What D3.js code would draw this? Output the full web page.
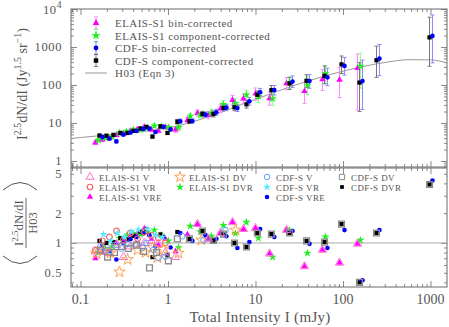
<!DOCTYPE html>
<html><head><meta charset="utf-8">
<script src="https://cdn.jsdelivr.net/npm/d3@7"></script>
<style>
body{margin:0;background:#fff;}
svg{display:block;font-family:"Liberation Serif","DejaVu Serif",serif;}
</style></head><body><svg id="c" width="449" height="327"></svg>
<script>
// ---------------- data ----------------
const xTickValues = [0.1, 1, 10, 100, 1000];
const xTickLabels = ["0.1", "1", "10", "100", "1000"];
const topTickValues = [1, 10, 100, 1000];
const topTickLabels = ["1", "10", "100", "1000"];
const topTickPow = 10000;
const ratioTickValues = [0.5, 1, 2, 5];
const ratioTickLabels = ["0.5", "1", "2", "5"];

// H03 model curve (sampled)
const h03I   = [0.0779, 0.1, 0.178, 0.316, 0.562, 1, 1.78, 3.16, 5.62, 10, 17.8, 31.6, 56.2, 100, 178, 316, 562, 1000, 1544];
const h03Val = [3.9, 4.15, 4.7, 5.3, 6.1, 7.4, 10.19, 15.67, 25.39, 41.88, 68.2, 107.4, 161.3, 230.7, 312.7, 398, 462.7, 459, 380];

// ELAIS-S1 bin-corrected (VRE)
const elaisVreI     = [0.148,0.178,0.214,0.258,0.310,0.372,0.448,0.538,0.647,0.778,0.935,1.22,1.67,2.17,2.90,3.98,5.46,7.29,10.0,14.5,22.6,36.3,58.3,91.2,146.6];
const elaisVreVal   = [3.03,3.63,3.98,4.81,5.20,6.19,6.75,7.90,6.64,6.19,7.73,6.67,11.98,18.3,16.2,23.9,40.2,43.9,59.1,44.7,111,68.6,140,137,277];
const elaisVreUp    = [0.05,0.05,0.05,0.05,0.05,0.05,0.05,0.05,0.05,0.05,0.05,0.07,0.07,0.08,0.1,0.1,0.12,0.12,0.15,0.16,0.15,0.24,0.26,0.32,0.37];
const elaisVreDn    = [0.05,0.05,0.05,0.05,0.05,0.05,0.05,0.05,0.05,0.05,0.05,0.07,0.07,0.08,0.1,0.11,0.13,0.13,0.17,0.18,0.17,0.32,0.29,0.47,1.1];
const elaisVreRatio = [0.70,0.80,0.85,1.00,1.05,1.20,1.25,1.40,1.10,0.95,1.10,0.82,1.22,1.55,1.10,1.26,1.62,1.38,1.41,0.78,1.35,0.58,0.85,0.63,0.98];

// ELAIS-S1 component-corrected (DVR)
const elaisDvrI     = [0.160,0.192,0.231,0.279,0.335,0.402,0.484,0.581,0.699,0.840,1.01,1.32,1.80,2.34,3.13,4.30,5.90,7.87,10.8,15.7,24.4,39.2,63.0,158];
const elaisDvrVal   = [3.53,4.04,4.35,5.45,5.94,6.58,6.71,7.51,8.42,8.08,7.64,7.68,15.2,16.3,18.2,30.7,33.1,55.2,50.2,44.1,118,99.0,199,315];
const elaisDvrUp    = [0.05,0.05,0.05,0.05,0.05,0.05,0.05,0.05,0.05,0.05,0.05,0.07,0.07,0.08,0.1,0.1,0.12,0.12,0.15,0.16,0.15,0.24,0.21,0.34];
const elaisDvrDn    = [0.05,0.05,0.05,0.05,0.05,0.05,0.05,0.05,0.05,0.05,0.05,0.07,0.07,0.08,0.1,0.11,0.13,0.13,0.17,0.18,0.17,0.24,0.26,0.58];
const elaisDvrRatio = [0.80,0.88,0.92,1.12,1.18,1.25,1.22,1.30,1.35,1.20,1.05,0.90,1.48,1.30,1.17,1.51,1.25,1.62,1.12,0.72,1.35,0.79,1.15,1.07];

// CDF-S bin-corrected (VRE)
const cdfsVreI      = [0.178,0.214,0.257,0.309,0.373,0.436,0.524,0.613,0.718,0.887,1.07,1.38,1.90,2.68,3.57,4.65,6.21,8.52,11.3,16.4,26.5,41.4,66.4,104,167,261,1053];
const cdfsVreVal    = [4.31,3.88,3.27,4.95,5.63,6.18,7.01,7.10,5.81,7.92,6.77,11.1,11.3,16.6,19.1,25.4,24.7,37.2,64.6,73.6,123,127,159,318,127,496,1960];
const cdfsVreUp     = [0.04,0.04,0.04,0.04,0.04,0.04,0.04,0.04,0.04,0.04,0.04,0.06,0.06,0.07,0.08,0.08,0.09,0.1,0.1,0.12,0.15,0.17,0.24,0.22,0.55,0.37,0.55];
const cdfsVreDn     = [0.04,0.04,0.04,0.04,0.04,0.04,0.04,0.04,0.04,0.04,0.04,0.06,0.06,0.07,0.08,0.08,0.09,0.1,0.1,0.13,0.16,0.19,0.22,0.24,0.75,0.45,0.71];
const cdfsVreRatio  = [0.95,0.83,0.68,1.00,1.09,1.15,1.25,1.20,0.92,1.15,0.90,1.26,1.05,1.20,1.10,1.17,0.89,1.02,1.38,1.15,1.32,0.98,0.89,1.35,0.42,1.35,4.27];

// CDF-S component-corrected (DVR)
const cdfsDvrI      = [0.165,0.198,0.238,0.286,0.345,0.404,0.485,0.568,0.665,0.821,0.987,1.28,1.76,2.48,3.31,4.31,5.75,7.89,10.5,15.2,24.5,38.3,61.5,96.2,154.5,241.5,975];
const cdfsDvrVal    = [4.67,4.61,4.85,5.47,5.47,6.21,7.16,7.84,4.40,8.13,5.47,10.8,11.1,17.3,17.3,25.0,25.9,31.0,55.2,73.6,110,129,174,349,116,448,1790];
const cdfsDvrUp     = [0.04,0.04,0.04,0.04,0.04,0.04,0.04,0.04,0.04,0.04,0.04,0.06,0.06,0.07,0.08,0.08,0.09,0.1,0.1,0.12,0.15,0.16,0.26,0.22,0.53,0.37,0.53];
const cdfsDvrDn     = [0.04,0.04,0.04,0.04,0.04,0.04,0.04,0.04,0.04,0.04,0.04,0.06,0.06,0.07,0.08,0.08,0.09,0.1,0.1,0.13,0.16,0.18,0.21,0.24,0.76,0.45,0.76];
const cdfsDvrRatio  = [1.05,1.00,1.02,1.12,1.08,1.18,1.30,1.37,0.72,1.22,0.76,1.29,1.10,1.32,1.06,1.23,1.00,0.91,1.26,1.23,1.26,1.05,1.02,1.55,0.40,1.26,3.90];

// lower panel only: other ratio series
const elaisVI      = [0.148,0.178,0.214,0.258,0.310,0.372,0.448,0.538,0.647,0.778,0.935,1.22,2.17,2.90,3.98,5.46,7.29,10.0,14.5,22.6,36.3,58.3,91.2,146.6];
const elaisVRatio  = [0.82,0.90,0.79,0.95,0.72,0.92,0.98,1.00,1.05,0.98,0.80,0.72,1.55,1.10,1.26,1.62,1.38,1.41,0.78,1.35,0.58,0.85,0.63,0.98];
const elaisVrI     = [0.148,0.178,0.214,0.258,0.310,0.372,0.448,0.538,0.647,0.778,0.935];
const elaisVrRatio = [0.85,1.05,1.15,1.32,1.08,1.26,1.10,1.29,1.20,1.12,1.00];
const elaisDvI     = [0.152,0.183,0.220,0.279,0.345,0.448,0.553,0.665,0.758,0.889,1.32,2.41,5.92];
const elaisDvRatio = [0.78,0.85,0.79,0.51,0.68,0.85,0.80,0.90,0.71,0.86,0.79,1.07,1.35];
const cdfsVI       = [0.169,0.204,0.245,0.294,0.352,0.425,0.511,0.568,0.683,0.779,0.936,1.46,2.55,4.54];
const cdfsVRatio   = [0.92,0.85,0.95,0.88,0.98,0.95,0.90,1.00,0.85,0.71,0.73,1.17,1.07,1.35];
const cdfsVrI      = [0.183,0.220,0.265,0.318,0.383,0.460,0.583,0.720,0.865];
const cdfsVrRatio  = [1.22,1.05,1.26,1.15,1.30,1.36,1.38,1.20,1.15];
const cdfsDvI      = [0.169,0.204,0.245,0.294,0.352,0.436,0.525,0.614,0.739,1.01,1.28,1.76,2.48,3.31,4.31,5.75,7.89,10.5,15.2,24.5,38.3,61.5,96.2,154.5,241.5,975];
const cdfsDvRatio  = [0.85,0.72,0.80,0.92,0.88,0.95,0.82,0.56,0.80,0.66,1.10,1.10,1.32,1.06,1.23,1.00,0.91,1.26,1.23,1.26,1.05,1.02,1.55,0.40,1.26,3.90];

// ---------------- drawing ----------------
const svg = d3.select("#c");
const L = 71, R = 447, T1 = 9, B1 = 167, T2 = 168, B2 = 287;
const ink = "#6a6a6a", txt = "#555";
const x  = d3.scaleLog().domain([0.0779, 1544]).range([L, R]);
const y1 = d3.scaleLog().domain([0.695, 10000]).range([B1, T1]);
const y2 = d3.scaleLog().domain([0.359, 5.72]).range([B2, T2]);

function minors(dom){
  const out=[]; const a=Math.min(...dom), b=Math.max(...dom);
  for(let e=Math.floor(Math.log10(a)); e<=Math.ceil(Math.log10(b)); e++)
    for(let k=1;k<=9;k++){const v=k*Math.pow(10,e); if(v>=a&&v<=b) out.push(v);}
  return out;
}
function majors(dom){
  const out=[]; const a=Math.min(...dom), b=Math.max(...dom);
  for(let e=Math.floor(Math.log10(a)); e<=Math.ceil(Math.log10(b)); e++){const v=Math.pow(10,e); if(v>=a*0.999&&v<=b*1.001) out.push(v);}
  return out;
}
function axis(fn, scale, vals, size, tr){
  svg.append("g").attr("transform", tr)
    .call(fn(scale).tickValues(vals).tickSize(size).tickFormat(""))
    .call(g=>{g.select(".domain").remove(); g.selectAll("line").attr("stroke", ink).attr("stroke-width",0.8);});
}
const xMaj = majors(x.domain()), xMin = minors(x.domain()).filter(v=>!xMaj.includes(v));
axis(d3.axisBottom, x, xMaj, -6, `translate(0,${B1})`);
axis(d3.axisBottom, x, xMin, -3, `translate(0,${B1})`);
axis(d3.axisTop, x, xMaj, -6, `translate(0,${T1})`);
axis(d3.axisTop, x, xMin, -3, `translate(0,${T1})`);
const y1Maj = majors(y1.domain()), y1Min = minors(y1.domain()).filter(v=>!y1Maj.includes(v));
axis(d3.axisLeft, y1, y1Maj, -6, `translate(${L},0)`);
axis(d3.axisLeft, y1, y1Min, -3, `translate(${L},0)`);
axis(d3.axisRight, y1, y1Maj, -6, `translate(${R},0)`);
axis(d3.axisRight, y1, y1Min, -3, `translate(${R},0)`);
axis(d3.axisBottom, x, xMaj, -6, `translate(0,${B2})`);
axis(d3.axisBottom, x, xMin, -3, `translate(0,${B2})`);
axis(d3.axisTop, x, xMaj, -6, `translate(0,${T2})`);
axis(d3.axisTop, x, xMin, -3, `translate(0,${T2})`);
const y2Min = minors(y2.domain()).filter(v=>v!==1);
axis(d3.axisLeft, y2, [1], -6, `translate(${L},0)`);
axis(d3.axisLeft, y2, y2Min, -3, `translate(${L},0)`);
axis(d3.axisRight, y2, [1], -6, `translate(${R},0)`);
axis(d3.axisRight, y2, y2Min, -3, `translate(${R},0)`);

[[T1,B1],[T2,B2]].forEach(([t,b])=>svg.append("rect").attr("x",L).attr("y",t).attr("width",R-L).attr("height",b-t)
  .attr("fill","none").attr("stroke",ink).attr("stroke-width",1));

// tick labels
const lab = svg.append("g").attr("fill", txt);
xTickValues.forEach((v,i)=>lab.append("text").attr("x", x(v)).attr("y", 304).attr("text-anchor","middle")
  .attr("font-size",14).text(xTickLabels[i]));
topTickValues.forEach((v,i)=>lab.append("text").attr("x", 62).attr("y", y1(v)+4.2).attr("text-anchor","end")
  .attr("font-size",12.5).attr("letter-spacing",0.6).text(topTickLabels[i]));
{
  const t = lab.append("text").attr("x", 62).attr("y", y1(topTickPow)+4.5).attr("text-anchor","end").attr("font-size",12.5).attr("letter-spacing",0.6);
  t.append("tspan").text("10");
  t.append("tspan").attr("dy",-6).attr("font-size",9.5).text("4");
}
ratioTickValues.forEach((v,i)=>lab.append("text").attr("x", 62).attr("y", y2(v)+4.5).attr("text-anchor","end")
  .attr("font-size",12.5).attr("letter-spacing",0.6).text(ratioTickLabels[i]));

// axis titles
svg.append("text").attr("x", 260).attr("y", 322).attr("text-anchor","middle").attr("fill",txt).attr("font-size",15)
  .attr("letter-spacing",0.3).text("Total Intensity I (mJy)");
{
  const t = svg.append("text").attr("transform","translate(27,84) rotate(-90)").attr("text-anchor","middle")
    .attr("fill",txt).attr("font-size",14);
  t.append("tspan").text("I");
  t.append("tspan").attr("dy",-6).attr("font-size",10).text("2.5");
  t.append("tspan").attr("dy",6).text("dN/dI (Jy");
  t.append("tspan").attr("dy",-6).attr("font-size",10).text("1.5");
  t.append("tspan").attr("dy",6).text(" sr");
  t.append("tspan").attr("dy",-6).attr("font-size",10).text("\u22121");
  t.append("tspan").attr("dy",6).text(")");
}
{
  const g = svg.append("g").attr("transform","translate(22,223) rotate(-90)").attr("fill",txt);
  const t = g.append("text").attr("x",0).attr("y",1).attr("text-anchor","middle").attr("font-size",13);
  t.append("tspan").text("I");
  t.append("tspan").attr("dy",-5).attr("font-size",9).text("2.5");
  t.append("tspan").attr("dy",5).text("dN/dI");
  g.append("line").attr("x1",-25).attr("x2",25).attr("y1",4).attr("y2",4).attr("stroke",txt).attr("stroke-width",0.9);
  g.append("text").attr("x",0).attr("y",15).attr("text-anchor","middle").attr("font-size",12.5).text("H03");
  g.append("path").attr("d","M-33,-19 Q-48,-2 -33,15").attr("fill","none").attr("stroke",txt).attr("stroke-width",1);
  g.append("path").attr("d","M33,-19 Q48,-2 33,15").attr("fill","none").attr("stroke",txt).attr("stroke-width",1);
}

// H03 curve
svg.append("path").datum(h03I.map((v,i)=>[v,h03Val[i]]))
  .attr("d", d3.line().x(d=>x(d[0])).y(d=>y1(d[1])).curve(d3.curveMonotoneX))
  .attr("fill","none").attr("stroke","#999").attr("stroke-width",1);
svg.append("line").attr("x1",L).attr("x2",R).attr("y1",y2(1)).attr("y2",y2(1)).attr("stroke","#aaa").attr("stroke-width",1);

const sym = (type,size)=>d3.symbol().type(type).size(size)();
function marks(g, xs, ys, yScale, type, size, fill, stroke, sw){
  g.selectAll(null).data(xs.map((v,i)=>[v,ys[i]])).join("path")
    .attr("transform",d=>`translate(${x(d[0])},${yScale(d[1])})`)
    .attr("d", sym(type,size)).attr("fill",fill).attr("stroke",stroke||"none").attr("stroke-width",sw||0);
}
function errs(g, xs, vs, up, dn, color){
  xs.forEach((v,i)=>{
    const px = x(v), yt = y1(vs[i]*Math.pow(10,up[i])), yb = y1(vs[i]/Math.pow(10,dn[i]));
    g.append("line").attr("x1",px).attr("x2",px).attr("y1",yt).attr("y2",yb).attr("stroke",color).attr("stroke-width",1);
    g.append("line").attr("x1",px-2).attr("x2",px+2).attr("y1",yt).attr("y2",yt).attr("stroke",color).attr("stroke-width",1);
    g.append("line").attr("x1",px-2).attr("x2",px+2).attr("y1",yb).attr("y2",yb).attr("stroke",color).attr("stroke-width",1);
  });
}
const cMag="#ff00ff", cMagE="#ff88ff", cGrn="#22ee22", cGrnE="#88ff88", cBlu="#0000ff", cBluE="#8888ff", cBlk="#000", cBlkE="#777";

const up = svg.append("g");
errs(up, elaisVreI, elaisVreVal, elaisVreUp, elaisVreDn, cMagE);
errs(up, elaisDvrI, elaisDvrVal, elaisDvrUp, elaisDvrDn, cGrnE);
errs(up, cdfsDvrI, cdfsDvrVal, cdfsDvrUp, cdfsDvrDn, cBlkE);
errs(up, cdfsVreI, cdfsVreVal, cdfsVreUp, cdfsVreDn, cBluE);
marks(up, elaisVreI, elaisVreVal, y1, d3.symbolTriangle, 18, cMag);
marks(up, elaisDvrI, elaisDvrVal, y1, d3.symbolStar, 22, cGrn);
marks(up, cdfsDvrI, cdfsDvrVal, y1, d3.symbolSquare, 18, cBlk);
marks(up, cdfsVreI, cdfsVreVal, y1, d3.symbolCircle, 17, cBlu);

const lo = svg.append("g");
marks(lo, elaisVreI, elaisVreRatio, y2, d3.symbolTriangle, 18, cMag);
marks(lo, elaisDvrI, elaisDvrRatio, y2, d3.symbolStar, 22, cGrn);
marks(lo, cdfsDvrI, cdfsDvrRatio, y2, d3.symbolSquare, 18, cBlk);
marks(lo, cdfsVreI, cdfsVreRatio, y2, d3.symbolCircle, 17, cBlu);
marks(lo, elaisVI, elaisVRatio, y2, d3.symbolTriangle, 30, "none", "#ff70d0", 1);
marks(lo, elaisVrI, elaisVrRatio, y2, d3.symbolCircle, 26, "none", "#f06a6a", 1.2);
marks(lo, elaisDvI, elaisDvRatio, y2, d3.symbolStar, 40, "none", "#ffa050", 1);
marks(lo, cdfsVI, cdfsVRatio, y2, d3.symbolCircle, 26, "none", "#5aa0ff", 1);
marks(lo, cdfsVrI, cdfsVrRatio, y2, d3.symbolStar, 20, "#55e8ff");
marks(lo, cdfsDvI, cdfsDvRatio, y2, d3.symbolSquare, 34, "none", "#8a8a8a", 1.3);

// upper legend
const lg = svg.append("g");
const legUp = [
  {t:"ELAIS-S1 bin-corrected", type:d3.symbolTriangle, s:20, c:cMag, e:cMagE},
  {t:"ELAIS-S1 component-corrected", type:d3.symbolStar, s:26, c:cGrn, e:cGrnE},
  {t:"CDF-S bin-corrected", type:d3.symbolCircle, s:18, c:cBlu, e:cBluE},
  {t:"CDF-S component-corrected", type:d3.symbolSquare, s:20, c:cBlk, e:cBlkE}
];
const legRowsY = [23, 35.5, 48, 60.5, 73];
legUp.forEach((d,i)=>{
  const yy = legRowsY[i];
  lg.append("line").attr("x1",96).attr("x2",96).attr("y1",yy-6).attr("y2",yy+6).attr("stroke",d.e);
  lg.append("line").attr("x1",94).attr("x2",98).attr("y1",yy-6).attr("y2",yy-6).attr("stroke",d.e);
  lg.append("line").attr("x1",94).attr("x2",98).attr("y1",yy+6).attr("y2",yy+6).attr("stroke",d.e);
  lg.append("path").attr("transform",`translate(96,${yy})`).attr("d",sym(d.type,d.s)).attr("fill",d.c);
  lg.append("text").attr("x",115).attr("y",yy+4).attr("fill",txt).attr("font-size",11).attr("letter-spacing",0.45).text(d.t);
});
lg.append("line").attr("x1",85).attr("x2",107).attr("y1",legRowsY[4]).attr("y2",legRowsY[4]).attr("stroke","#999");
lg.append("text").attr("x",115).attr("y",legRowsY[4]+4).attr("fill",txt).attr("font-size",11).attr("letter-spacing",0.45).text("H03 (Eqn 3)");

// lower legend
const legLo = [
  {t:"ELAIS-S1 V",  x:90,  y:177, type:d3.symbolTriangle, s:28, f:"none", st:"#ff70d0", sw:1},
  {t:"ELAIS-S1 VR", x:90,  y:187, type:d3.symbolCircle, s:24, f:"none", st:"#f06a6a", sw:1.2},
  {t:"ELAIS-S1 VRE",x:90,  y:197, type:d3.symbolTriangle, s:18, f:cMag},
  {t:"ELAIS-S1 DV", x:180, y:177, type:d3.symbolStar, s:36, f:"none", st:"#ffa050", sw:1},
  {t:"ELAIS-S1 DVR",x:180, y:187, type:d3.symbolStar, s:22, f:cGrn},
  {t:"CDF-S V",     x:267, y:177, type:d3.symbolCircle, s:24, f:"none", st:"#5aa0ff", sw:1},
  {t:"CDF-S VR",    x:267, y:187, type:d3.symbolStar, s:20, f:"#55e8ff"},
  {t:"CDF-S VRE",   x:267, y:197, type:d3.symbolCircle, s:16, f:cBlu},
  {t:"CDF-S DV",    x:342, y:177, type:d3.symbolSquare, s:28, f:"none", st:"#8a8a8a", sw:1},
  {t:"CDF-S DVR",   x:342, y:187, type:d3.symbolSquare, s:14, f:cBlk}
];
legLo.forEach(d=>{
  lg.append("path").attr("transform",`translate(${d.x},${d.y})`).attr("d",sym(d.type,d.s))
    .attr("fill",d.f).attr("stroke",d.st||"none").attr("stroke-width",d.sw||0);
  lg.append("text").attr("x",d.x+9).attr("y",d.y+3.5).attr("fill",txt).attr("font-size",9).attr("letter-spacing",0.4).text(d.t);
});
</script></body></html>
